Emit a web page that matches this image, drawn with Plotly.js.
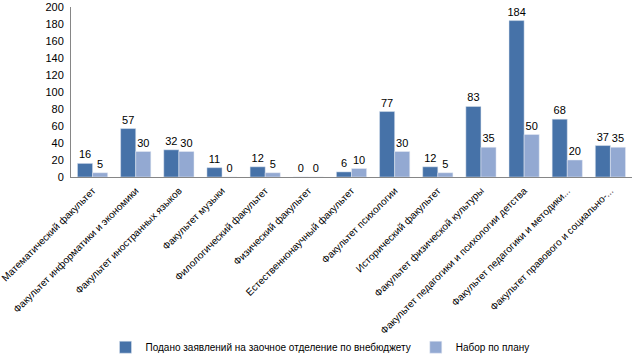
<!DOCTYPE html>
<html><head><meta charset="utf-8">
<script src="https://cdn.plot.ly/plotly-3.0.1.min.js"></script>
<style>html,body{margin:0;padding:0;background:#fff}#c{width:640px;height:355px}</style>
</head><body><div id="c"></div>
<script>
const categories = [
  "Математический факультет",
  "Факультет информатики и экономики",
  "Факультет иностранных языков",
  "Факультет музыки",
  "Филологический факультет",
  "Физический факультет",
  "Естественнонаучный факультет",
  "Факультет психологии",
  "Исторический факультет",
  "Факультет физической культуры",
  "Факультет педагогики и психологии детства",
  "Факультет педагогики и методики...",
  "Факультет правового и социально-..."
];
const applied = [16, 57, 32, 11, 12, 0, 6, 77, 12, 83, 184, 68, 37];
const plan = [5, 30, 30, 0, 5, 0, 10, 30, 5, 35, 50, 20, 35];
const seriesNames = ["Подано заявлений на заочное отделение по внебюджету", "Набор по плану"];

const font = "Liberation Sans, Arial, sans-serif";
const traces = [
  {type:'bar', name: seriesNames[0], x: categories, y: applied, marker:{color:'#4672A8', line:{color:'#dfe6f0', width:0.5}},
   text: applied.map(String), textposition:'outside', cliponaxis:false, constraintext:'none', textfont:{size:11, color:'#000'}},
  {type:'bar', name: seriesNames[1], x: categories, y: plan, marker:{color:'#93A9D2', line:{color:'#e8edf5', width:0.5}},
   text: plan.map(String), textposition:'outside', cliponaxis:false, constraintext:'none', textfont:{size:11, color:'#000'}}
];
const layout = {
  width:640, height:355,
  margin:{l:71, r:8, t:7, b:178, autoexpand:false},
  paper_bgcolor:'#fff', plot_bgcolor:'#fff',
  font:{family:font, size:11, color:'#000'},
  barmode:'group', bargap:0.3, bargroupgap:0,
  showlegend:true,
  legend:{orientation:'h', xref:'container', yref:'container', x:0.5, xanchor:'center', y:0.022, yanchor:'middle', font:{size:10, color:'#000'}, traceorder:'normal', itemwidth:30, tracegroupgap:0},
  xaxis:{type:'category', tickangle:-45, showline:true, linecolor:'#868686', linewidth:1, ticks:'', tickfont:{size:10, color:'#000'}, automargin:false, showgrid:false, ticklabelstandoff:3},
  yaxis:{range:[0,200], dtick:20, showline:true, linecolor:'#868686', linewidth:1, showgrid:false, zeroline:false, ticks:'', tickfont:{size:11, color:'#000'}, automargin:false, ticklabelstandoff:4}
};
Plotly.newPlot('c', traces, layout, {displayModeBar:false, staticPlot:true});
</script>
</body></html>
